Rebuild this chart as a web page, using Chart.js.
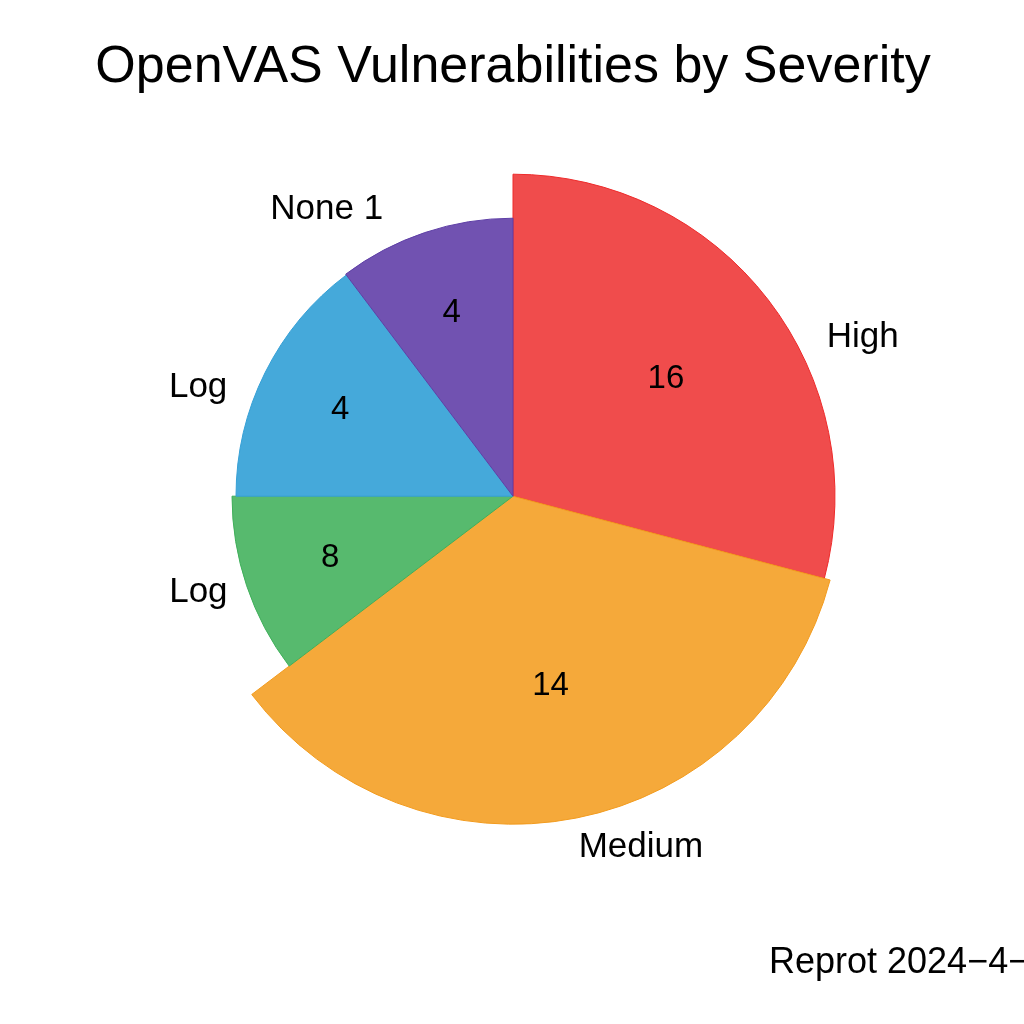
<!DOCTYPE html>
<html>
<head>
<meta charset="utf-8">
<script src="https://cdn.jsdelivr.net/npm/chart.js@4/dist/chart.umd.min.js"></script>
<style>
  html, body { margin: 0; padding: 0; background: #fff; }
  #wrap { width: 1024px; height: 1024px; }
</style>
</head>
<body>
<div id="wrap"><canvas id="pie" width="1024" height="1024"></canvas></div>
<script>
// slice labels, printed counts, and slice angles (degrees)
const sliceLabels = ["High", "Medium", "Log", "Log", "None 1"];
const sliceCounts = [16, 14, 8, 4, 4];
const sliceDegrees = [104.8, 128, 37.2, 53, 37];
const sliceColors = ["#F04C4C", "#F5A93A", "#57BA6E", "#45A9DA", "#7152B1"];
const sliceBorders = ["#EE2A2A", "#F29B1E", "#3FAF5A", "#36A0D6", "#5E3FA6"];

// per-slice outer radius (px) - the slices are not all the same length
const sliceRadius = [322, 328, 281, 277, 278];
// outer name labels: [angle deg from 3 o'clock, distance px] from pie centre
const nameLabelPos = [[-24.4, 384], [70, 374], [199, 333], [163, 329], [237, 342]];
const countLabelDist = 193;

const FONT = "'Liberation Sans', Arial, Helvetica, sans-serif";

const sliceRadii = {
  id: "sliceRadii",
  afterDatasetsUpdate(chart) {
    const meta = chart.getDatasetMeta(0);
    meta.data.forEach(function (arc, i) {
      arc.outerRadius = sliceRadius[i];
    });
  }
};

const sliceText = {
  id: "sliceText",
  afterDatasetsDraw(chart) {
    const ctx = chart.ctx;
    const meta = chart.getDatasetMeta(0);
    ctx.save();
    ctx.fillStyle = "#000";
    ctx.textAlign = "center";
    ctx.textBaseline = "middle";
    meta.data.forEach(function (arc, i) {
      const mid = (arc.startAngle + arc.endAngle) / 2;
      ctx.font = "33px " + FONT;
      ctx.fillText(String(sliceCounts[i]),
        arc.x + Math.cos(mid) * countLabelDist,
        arc.y + Math.sin(mid) * countLabelDist);
      const p = nameLabelPos[i];
      const a = p[0] * Math.PI / 180;
      ctx.font = "35px " + FONT;
      ctx.fillText(sliceLabels[i], arc.x + Math.cos(a) * p[1], arc.y + Math.sin(a) * p[1]);
    });
    // footer, cut off by the right edge like the original
    ctx.textAlign = "left";
    ctx.textBaseline = "alphabetic";
    ctx.font = "36px " + FONT;
    ctx.fillText("Reprot 2024\u22124\u2212", 769, 973);
    ctx.restore();
  }
};

new Chart(document.getElementById("pie"), {
  type: "pie",
  data: {
    labels: sliceLabels,
    datasets: [{
      data: sliceDegrees,
      backgroundColor: sliceColors,
      borderColor: sliceBorders,
      borderWidth: 1,
      radius: 328
    }]
  },
  plugins: [sliceRadii, sliceText],
  options: {
    responsive: false,
    animation: false,
    layout: { padding: { left: 2, right: 0, top: 0, bottom: 130 } },
    plugins: {
      legend: { display: false },
      tooltip: { enabled: false },
      title: {
        display: true,
        text: "OpenVAS Vulnerabilities by Severity",
        color: "#000",
        font: { family: FONT, size: 52, weight: "normal", lineHeight: 1.2 },
        padding: { top: 36, bottom: 0 }
      }
    }
  }
});
</script>
</body>
</html>
